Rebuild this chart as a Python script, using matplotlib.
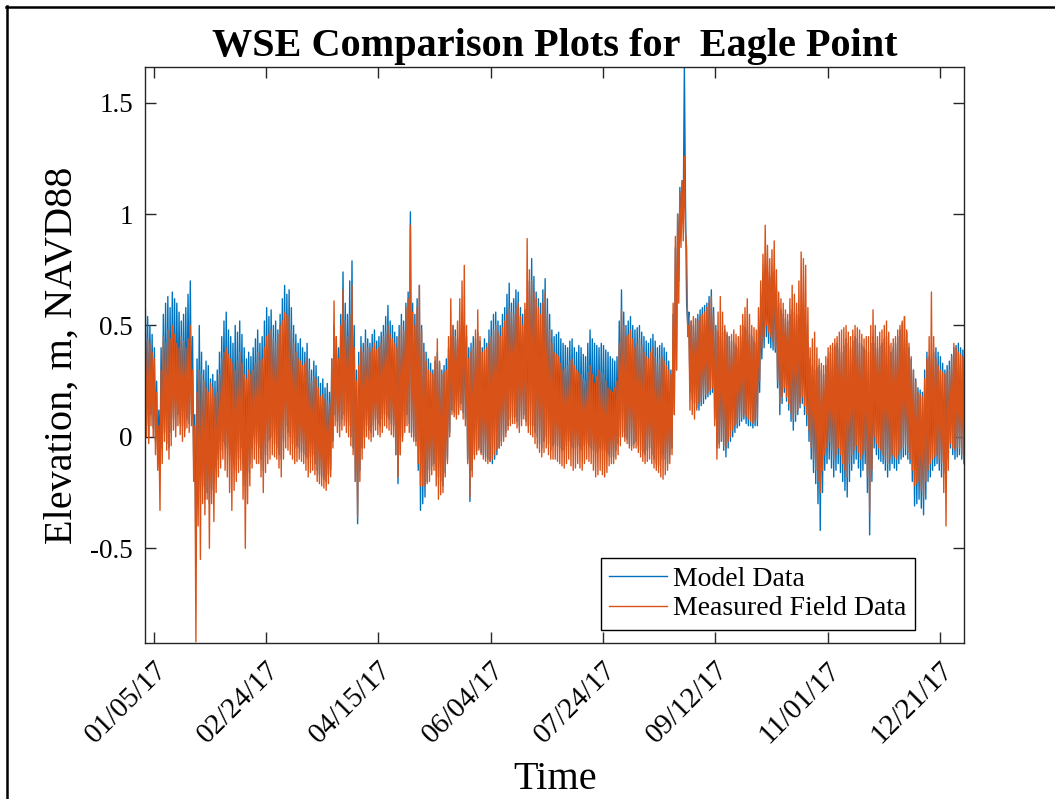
import numpy as np
import matplotlib
matplotlib.use('Agg')
import matplotlib.pyplot as plt
import matplotlib.dates as mdates
from matplotlib.lines import Line2D
from matplotlib.transforms import ScaledTranslation

# daily high / low water levels, one pair per day from Jan 1 (m, NAVD88)
model_hi = [
    0.57, 0.54, 0.50, 0.46, 0.40, 0.25, 0.12, 0.40, 0.55, 0.60,
    0.63, 0.58, 0.65, 0.62, 0.60, 0.56, 0.52, 0.55, 0.58, 0.64,
    0.70, 0.45, 0.10, 0.35, 0.50, 0.38, 0.30, 0.34, 0.32, 0.26,
    0.28, 0.25, 0.30, 0.38, 0.45, 0.52, 0.56, 0.48, 0.45, 0.42,
    0.50, 0.47, 0.52, 0.46, 0.40, 0.35, 0.38, 0.36, 0.40, 0.44,
    0.48, 0.42, 0.45, 0.52, 0.58, 0.54, 0.57, 0.50, 0.52, 0.48,
    0.55, 0.62, 0.68, 0.64, 0.66, 0.58, 0.50, 0.46, 0.42, 0.44,
    0.40, 0.38, 0.42, 0.35, 0.30, 0.34, 0.32, 0.27, 0.24, 0.26,
    0.22, 0.24, 0.20, 0.35, 0.50, 0.45, 0.40, 0.55, 0.74, 0.60,
    0.55, 0.70, 0.79, 0.50, 0.30, 0.38, 0.45, 0.42, 0.48, 0.44,
    0.42, 0.46, 0.48, 0.43, 0.45, 0.47, 0.50, 0.54, 0.59, 0.52,
    0.50, 0.47, 0.45, 0.50, 0.55, 0.52, 0.60, 0.65, 1.01, 0.60,
    0.55, 0.62, 0.68, 0.50, 0.42, 0.38, 0.35, 0.33, 0.30, 0.34,
    0.38, 0.33, 0.30, 0.32, 0.35, 0.40, 0.45, 0.50, 0.48, 0.44,
    0.42, 0.46, 0.50, 0.45, 0.40, 0.42, 0.45, 0.44, 0.47, 0.43,
    0.40, 0.44, 0.42, 0.48, 0.52, 0.55, 0.56, 0.52, 0.50, 0.55,
    0.58, 0.64, 0.69, 0.60, 0.62, 0.66, 0.65, 0.58, 0.55, 0.57,
    0.60, 0.70, 0.80, 0.72, 0.65, 0.62, 0.60, 0.66, 0.71, 0.62,
    0.55, 0.48, 0.45, 0.46, 0.47, 0.44, 0.42, 0.41, 0.40, 0.43,
    0.44, 0.40, 0.38, 0.41, 0.40, 0.37, 0.36, 0.42, 0.48, 0.44,
    0.42, 0.41, 0.40, 0.42, 0.41, 0.39, 0.38, 0.36, 0.35, 0.34,
    0.36, 0.52, 0.66, 0.56, 0.50, 0.52, 0.54, 0.50, 0.48, 0.49,
    0.50, 0.47, 0.45, 0.43, 0.42, 0.44, 0.46, 0.43, 0.40, 0.41,
    0.42, 0.40, 0.38, 0.34, 0.30, 0.55, 0.85, 1.00, 1.12, 1.15,
    1.66, 0.60, 0.56, 0.52, 0.50, 0.53, 0.55, 0.57, 0.58, 0.59,
    0.60, 0.63, 0.66, 0.58, 0.50, 0.47, 0.45, 0.47, 0.48, 0.46,
    0.45, 0.43, 0.42, 0.41, 0.40, 0.45, 0.50, 0.49, 0.48, 0.46,
    0.45, 0.43, 0.42, 0.48, 0.60, 0.70, 0.77, 0.74, 0.72, 0.73,
    0.74, 0.66, 0.60, 0.57, 0.55, 0.53, 0.52, 0.55, 0.57, 0.56,
    0.55, 0.53, 0.52, 0.51, 0.50, 0.42, 0.35, 0.32, 0.30, 0.31,
    0.32, 0.30, 0.28, 0.32, 0.35, 0.38, 0.40, 0.41, 0.42, 0.40,
    0.38, 0.41, 0.44, 0.42, 0.40, 0.43, 0.45, 0.44, 0.42, 0.41,
    0.40, 0.39, 0.38, 0.42, 0.45, 0.42, 0.40, 0.41, 0.42, 0.44,
    0.45, 0.41, 0.38, 0.40, 0.42, 0.45, 0.48, 0.51, 0.54, 0.47,
    0.40, 0.35, 0.30, 0.26, 0.22, 0.21, 0.20, 0.30, 0.38, 0.36,
    0.35, 0.38, 0.40, 0.38, 0.36, 0.33, 0.30, 0.32, 0.34, 0.37,
    0.40, 0.41, 0.42, 0.40, 0.39,
]
model_lo = [
    0.05, 0.00, 0.10, 0.04, -0.02, -0.08, -0.12, -0.05, 0.02, -0.03,
    -0.05, 0.02, 0.08, 0.05, 0.10, 0.06, 0.05, 0.03, 0.08, 0.06,
    0.10, -0.10, -0.58, -0.30, -0.15, -0.22, -0.28, -0.25, -0.30, -0.24,
    -0.20, -0.14, -0.10, -0.06, -0.02, -0.04, -0.05, -0.08, -0.10, -0.13,
    -0.15, -0.10, -0.05, -0.12, -0.22, -0.16, -0.12, -0.05, 0.00, -0.03,
    -0.05, -0.10, -0.15, -0.08, -0.02, -0.01, 0.00, -0.03, -0.05, -0.08,
    -0.10, -0.02, 0.05, 0.02, 0.00, -0.03, -0.05, -0.04, -0.05, -0.07,
    -0.08, -0.09, -0.10, -0.09, -0.08, -0.12, -0.15, -0.17, -0.18, -0.19,
    -0.20, -0.17, -0.15, -0.02, 0.10, 0.07, 0.05, 0.08, 0.10, 0.07,
    0.05, 0.00, -0.05, -0.20, -0.39, -0.15, -0.05, 0.00, 0.05, 0.03,
    0.02, 0.05, 0.08, 0.06, 0.05, 0.08, 0.10, 0.09, 0.08, 0.06,
    0.05, -0.08, -0.21, -0.08, 0.00, 0.05, 0.10, 0.06, 0.02, 0.00,
    -0.02, -0.15, -0.33, -0.30, -0.27, -0.20, -0.15, -0.13, -0.12, -0.15,
    -0.18, -0.20, -0.22, -0.16, -0.10, 0.02, 0.12, 0.11, 0.10, 0.13,
    0.15, 0.11, 0.08, -0.10, -0.29, -0.15, -0.08, -0.06, -0.05, -0.07,
    -0.08, -0.09, -0.10, -0.11, -0.12, -0.10, -0.08, -0.05, -0.02, 0.00,
    0.02, 0.05, 0.08, 0.09, 0.09, 0.07, 0.05, 0.08, 0.10, 0.07,
    0.05, 0.05, 0.05, 0.02, 0.00, -0.03, -0.05, -0.02, 0.00, -0.03,
    -0.06, -0.04, -0.03, -0.04, -0.05, -0.06, -0.06, -0.04, -0.02, -0.04,
    -0.05, -0.05, -0.04, -0.05, -0.06, -0.04, -0.03, -0.04, -0.05, -0.06,
    -0.07, -0.06, -0.05, -0.06, -0.06, -0.07, -0.08, -0.09, -0.09, -0.06,
    -0.03, 0.00, 0.02, 0.00, -0.01, -0.03, -0.04, -0.03, -0.02, -0.04,
    -0.06, -0.07, -0.08, -0.06, -0.05, -0.08, -0.10, -0.12, -0.13, -0.10,
    -0.08, -0.10, -0.12, -0.08, -0.05, 0.10, 0.30, 0.70, 0.95, 1.00,
    1.05, 0.50, 0.20, 0.17, 0.15, 0.13, 0.12, 0.14, 0.15, 0.17,
    0.18, 0.19, 0.20, 0.08, -0.05, -0.03, -0.02, -0.06, -0.09, -0.05,
    -0.02, 0.00, 0.02, 0.04, 0.05, 0.07, 0.08, 0.06, 0.05, 0.05,
    0.04, 0.05, 0.05, 0.20, 0.35, 0.40, 0.45, 0.42, 0.40, 0.39,
    0.38, 0.22, 0.10, 0.15, 0.20, 0.16, 0.12, 0.07, 0.03, 0.07,
    0.10, 0.13, 0.15, 0.10, 0.05, -0.02, -0.10, -0.16, -0.21, -0.30,
    -0.42, -0.25, -0.15, -0.12, -0.10, -0.14, -0.18, -0.15, -0.12, -0.16,
    -0.20, -0.24, -0.27, -0.20, -0.15, -0.12, -0.10, -0.14, -0.18, -0.15,
    -0.12, -0.25, -0.44, -0.20, -0.05, -0.08, -0.10, -0.11, -0.12, -0.15,
    -0.18, -0.15, -0.12, -0.14, -0.15, -0.12, -0.10, -0.09, -0.08, -0.10,
    -0.12, -0.20, -0.31, -0.30, -0.28, -0.32, -0.35, -0.28, -0.20, -0.18,
    -0.15, -0.13, -0.12, -0.15, -0.18, -0.16, -0.15, -0.10, -0.05, -0.08,
    -0.10, -0.09, -0.08, -0.10, -0.12,
]
meas_hi = [
    0.47, 0.44, 0.42, 0.38, 0.35, 0.20, 0.05, 0.30, 0.45, 0.42,
    0.48, 0.44, 0.50, 0.46, 0.42, 0.40, 0.45, 0.43, 0.40, 0.44,
    0.50, 0.30, 0.05, 0.20, 0.30, 0.28, 0.25, 0.22, 0.20, 0.24,
    0.22, 0.18, 0.20, 0.28, 0.35, 0.38, 0.40, 0.37, 0.35, 0.33,
    0.30, 0.34, 0.38, 0.33, 0.28, 0.26, 0.30, 0.28, 0.30, 0.33,
    0.38, 0.34, 0.35, 0.40, 0.45, 0.46, 0.48, 0.44, 0.42, 0.46,
    0.50, 0.52, 0.56, 0.55, 0.54, 0.48, 0.42, 0.38, 0.35, 0.34,
    0.32, 0.33, 0.35, 0.30, 0.25, 0.27, 0.26, 0.22, 0.18, 0.19,
    0.17, 0.16, 0.15, 0.35, 0.61, 0.45, 0.35, 0.50, 0.66, 0.52,
    0.45, 0.55, 0.68, 0.40, 0.25, 0.32, 0.40, 0.38, 0.42, 0.40,
    0.38, 0.40, 0.42, 0.39, 0.40, 0.42, 0.45, 0.47, 0.50, 0.46,
    0.44, 0.42, 0.40, 0.45, 0.50, 0.48, 0.58, 0.62, 0.95, 0.56,
    0.50, 0.58, 0.68, 0.48, 0.38, 0.34, 0.30, 0.29, 0.28, 0.36,
    0.44, 0.34, 0.28, 0.29, 0.30, 0.45, 0.62, 0.50, 0.45, 0.52,
    0.62, 0.70, 0.77, 0.50, 0.35, 0.38, 0.40, 0.48, 0.57, 0.45,
    0.38, 0.39, 0.40, 0.42, 0.45, 0.48, 0.50, 0.47, 0.45, 0.49,
    0.52, 0.55, 0.58, 0.56, 0.55, 0.58, 0.60, 0.54, 0.50, 0.60,
    0.89, 0.75, 0.70, 0.65, 0.62, 0.58, 0.55, 0.60, 0.65, 0.55,
    0.48, 0.42, 0.38, 0.37, 0.36, 0.33, 0.30, 0.31, 0.32, 0.34,
    0.35, 0.32, 0.30, 0.29, 0.28, 0.26, 0.25, 0.29, 0.32, 0.28,
    0.24, 0.27, 0.30, 0.29, 0.28, 0.25, 0.22, 0.21, 0.20, 0.22,
    0.25, 0.42, 0.57, 0.50, 0.45, 0.46, 0.48, 0.44, 0.40, 0.42,
    0.44, 0.41, 0.38, 0.36, 0.35, 0.38, 0.40, 0.36, 0.33, 0.35,
    0.36, 0.34, 0.32, 0.30, 0.28, 0.60, 0.90, 1.00, 1.10, 1.15,
    1.26, 0.85, 0.50, 0.52, 0.54, 0.53, 0.52, 0.54, 0.55, 0.56,
    0.58, 0.60, 0.63, 0.55, 0.48, 0.56, 0.63, 0.56, 0.50, 0.47,
    0.45, 0.46, 0.48, 0.46, 0.45, 0.50, 0.55, 0.58, 0.62, 0.55,
    0.50, 0.49, 0.48, 0.58, 0.70, 0.82, 0.95, 0.86, 0.80, 0.84,
    0.88, 0.75, 0.65, 0.62, 0.60, 0.57, 0.55, 0.62, 0.68, 0.64,
    0.60, 0.70, 0.83, 0.80, 0.77, 0.58, 0.40, 0.44, 0.47, 0.40,
    0.35, 0.33, 0.32, 0.36, 0.40, 0.41, 0.42, 0.44, 0.45, 0.47,
    0.48, 0.49, 0.50, 0.47, 0.45, 0.48, 0.50, 0.49, 0.48, 0.46,
    0.44, 0.45, 0.45, 0.50, 0.57, 0.50, 0.45, 0.47, 0.48, 0.50,
    0.52, 0.47, 0.42, 0.44, 0.45, 0.48, 0.50, 0.52, 0.54, 0.48,
    0.42, 0.36, 0.30, 0.25, 0.20, 0.19, 0.18, 0.26, 0.35, 0.45,
    0.65, 0.45, 0.35, 0.32, 0.30, 0.29, 0.28, 0.29, 0.30, 0.36,
    0.42, 0.40, 0.38, 0.37, 0.36,
]
meas_lo = [
    0.00, -0.03, 0.05, 0.00, -0.08, -0.15, -0.33, -0.12, -0.02, -0.06,
    -0.10, -0.04, 0.03, 0.00, 0.05, 0.01, -0.02, 0.00, 0.04, 0.02,
    0.05, -0.20, -0.92, -0.40, -0.55, -0.30, -0.35, -0.28, -0.50, -0.30,
    -0.38, -0.25, -0.18, -0.14, -0.10, -0.15, -0.18, -0.25, -0.33, -0.24,
    -0.20, -0.16, -0.15, -0.28, -0.50, -0.30, -0.22, -0.14, -0.10, -0.12,
    -0.12, -0.18, -0.25, -0.16, -0.12, -0.10, -0.08, -0.09, -0.10, -0.14,
    -0.18, -0.10, -0.05, -0.06, -0.08, -0.10, -0.12, -0.11, -0.10, -0.11,
    -0.12, -0.15, -0.18, -0.16, -0.15, -0.17, -0.20, -0.21, -0.22, -0.23,
    -0.24, -0.21, -0.18, -0.05, 0.05, 0.02, 0.00, 0.03, 0.05, 0.02,
    0.00, -0.04, -0.08, -0.20, -0.36, -0.20, -0.10, -0.05, 0.00, -0.01,
    -0.02, 0.00, 0.03, 0.01, 0.00, 0.02, 0.05, 0.04, 0.03, 0.01,
    0.00, -0.08, -0.18, -0.08, -0.02, 0.02, 0.05, 0.02, 0.00, -0.02,
    -0.04, -0.12, -0.22, -0.22, -0.22, -0.21, -0.20, -0.17, -0.15, -0.22,
    -0.28, -0.26, -0.25, -0.18, -0.12, 0.00, 0.10, 0.09, 0.08, 0.10,
    0.12, 0.08, 0.05, -0.12, -0.27, -0.18, -0.10, -0.08, -0.06, -0.08,
    -0.10, -0.11, -0.12, -0.11, -0.10, -0.08, -0.06, -0.05, -0.04, -0.02,
    0.00, 0.03, 0.05, 0.06, 0.06, 0.04, 0.02, 0.05, 0.08, 0.05,
    0.02, 0.01, 0.00, -0.03, -0.05, -0.07, -0.09, -0.07, -0.05, -0.08,
    -0.10, -0.10, -0.10, -0.11, -0.12, -0.13, -0.14, -0.12, -0.10, -0.13,
    -0.15, -0.14, -0.12, -0.14, -0.15, -0.12, -0.10, -0.11, -0.12, -0.15,
    -0.18, -0.17, -0.15, -0.17, -0.18, -0.16, -0.13, -0.12, -0.12, -0.10,
    -0.08, -0.04, 0.00, -0.02, -0.03, -0.05, -0.06, -0.05, -0.05, -0.07,
    -0.09, -0.11, -0.12, -0.11, -0.10, -0.12, -0.14, -0.15, -0.16, -0.18,
    -0.19, -0.17, -0.15, -0.12, -0.08, 0.10, 0.30, 0.60, 0.85, 0.88,
    0.92, 0.45, 0.12, 0.10, 0.08, 0.12, 0.15, 0.16, 0.18, 0.19,
    0.20, 0.21, 0.22, 0.05, -0.10, -0.05, -0.02, -0.04, -0.05, -0.02,
    0.00, 0.03, 0.05, 0.06, 0.08, 0.09, 0.10, 0.09, 0.08, 0.07,
    0.06, 0.07, 0.08, 0.25, 0.40, 0.45, 0.50, 0.47, 0.45, 0.43,
    0.40, 0.25, 0.15, 0.18, 0.22, 0.18, 0.15, 0.11, 0.08, 0.10,
    0.12, 0.15, 0.18, 0.14, 0.10, 0.03, -0.05, -0.10, -0.15, -0.20,
    -0.25, -0.15, -0.08, -0.05, -0.02, -0.06, -0.10, -0.08, -0.05, -0.08,
    -0.12, -0.15, -0.18, -0.12, -0.08, -0.06, -0.04, -0.07, -0.10, -0.08,
    -0.06, -0.18, -0.34, -0.15, 0.00, -0.03, -0.05, -0.06, -0.08, -0.10,
    -0.12, -0.10, -0.08, -0.09, -0.10, -0.08, -0.06, -0.05, -0.04, -0.07,
    -0.10, -0.15, -0.22, -0.21, -0.20, -0.24, -0.27, -0.20, -0.15, -0.12,
    -0.10, -0.09, -0.08, -0.10, -0.12, -0.25, -0.40, -0.15, -0.03, -0.05,
    -0.06, -0.05, -0.05, -0.08, -0.10,
]

series_names = ['Model Data', 'Measured Field Data']
ytick_vals = [-0.5, 0, 0.5, 1, 1.5]
ytick_labels = ['-0.5', '0', '0.5', '1', '1.5']
start = np.datetime64('2017-01-01T06:00')
end = np.datetime64('2017-12-31T20:00')
first_tick = np.datetime64('2017-01-05')
tick_step_days = 50

plt.rcParams['font.family'] = 'Liberation Serif'
plt.rcParams['axes.unicode_minus'] = False

# high water then low water each day -> 12 h steps
n = len(model_hi)
t = start + np.arange(2 * n) * np.timedelta64(12, 'h')
model = np.empty(2 * n)
model[0::2] = model_hi
model[1::2] = model_lo
meas = np.empty(2 * n)
meas[0::2] = meas_hi
meas[1::2] = meas_lo

fig = plt.figure(figsize=(10.55, 7.99), dpi=100)
ax = fig.add_axes([0.1378, 0.1956, 0.7761, 0.7202])

ax.plot(t, model, color='#0072BD', lw=1.0, label=series_names[0])
ax.plot(t, meas, color='#D95319', lw=1.0, label=series_names[1])

ax.set_xlim(start, end)
ax.set_ylim(-0.924, 1.659)
ax.set_xticks(first_tick + np.arange(8) * np.timedelta64(tick_step_days, 'D'))
ax.xaxis.set_major_formatter(mdates.DateFormatter('%m/%d/%y'))
ax.set_yticks(ytick_vals)
ax.set_yticklabels(ytick_labels)

ax.tick_params(direction='in', length=8, width=1, top=True, right=True,
               labelsize=19.5, pad=9, color='#262626')
ax.tick_params(axis='x', pad=14, labelsize=21)
# shift the rotated date labels a bit right/down like the original
shift = ScaledTranslation(9 / 100, -4 / 100, fig.dpi_scale_trans)
for lbl in ax.get_xticklabels():
    lbl.set_rotation(45)
    lbl.set_ha('right')
    lbl.set_va('center')
    lbl.set_rotation_mode('anchor')
    lbl.set_transform(lbl.get_transform() + shift)
for sp in ax.spines.values():
    sp.set_color('#262626')
    sp.set_linewidth(1)

ax.set_title('WSE Comparison Plots for  Eagle Point', fontsize=29, fontweight='bold', pad=8)
ax.set_ylabel('Elevation, m, NAVD88', fontsize=29, labelpad=7)
ax.set_xlabel('Time', fontsize=29, labelpad=9)

leg = ax.legend(loc='lower right', bbox_to_anchor=(0.940, 0.0226), borderaxespad=0,
                fontsize=20, fancybox=False, framealpha=1, edgecolor='black',
                handlelength=2.06, handletextpad=0.24, labelspacing=0.14, borderpad=0.3)
leg.get_frame().set_linewidth(1)

# black frame on the top and left edge of the screenshot
fig.add_artist(Line2D([6 / 1055, 1], [1 - 7 / 799, 1 - 7 / 799], transform=fig.transFigure,
                      color='black', lw=1.8))
fig.add_artist(Line2D([7 / 1055, 7 / 1055], [0, 1 - 6 / 799], transform=fig.transFigure,
                      color='black', lw=1.8))

fig.savefig('out.png', dpi=100)
